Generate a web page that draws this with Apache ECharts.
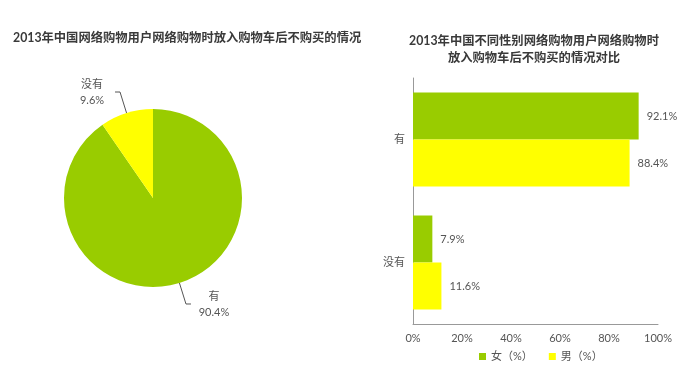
<!DOCTYPE html>
<html><head><meta charset="utf-8">
<script src="https://cdn.jsdelivr.net/npm/echarts@6/dist/echarts.min.js"></script>
<style>html,body{margin:0;padding:0;background:#fff}#c{width:690px;height:371px}</style>
</head><body><div id="c"></div>
<script>
const pieTitle = '2013年中国网络购物用户网络购物时放入购物车后不购买的情况';
const barTitle = '2013年中国不同性别网络购物用户网络购物时\n放入购物车后不购买的情况对比';
const pieNames = ['有', '没有'];
const pieValues = [90.4, 9.6];
const barCategories = ['没有', '有'];
const femaleValues = [7.9, 92.1];
const maleValues = [11.6, 88.4];
const seriesNames = ['女（%）', '男（%）'];
const xTicks = [0, 20, 40, 60, 80, 100];

const GREEN = '#99CC00', YELLOW = '#FFFF00';
const FONT = 'Lato, "Noto Sans CJK SC", sans-serif';
const chart = echarts.init(document.getElementById('c'));
chart.setOption({
  animation: false,
  textStyle: { fontFamily: FONT },
  title: [
    { text: pieTitle, left: 8, top: 27, textStyle: { fontSize: 12.3, fontWeight: 'bold', color: '#3a3a3a', fontFamily: FONT } },
    { text: barTitle, left: 529, top: 28, textAlign: 'center', textStyle: { fontSize: 12.3, fontWeight: 'bold', color: '#3a3a3a', lineHeight: 17, align: 'center', fontFamily: FONT } }
  ],
  legend: {
    data: seriesNames, bottom: 4, left: 474, itemWidth: 7, itemHeight: 7, itemGap: 16, icon: 'rect',
    textStyle: { color: '#555', fontSize: 11, fontFamily: FONT }
  },
  grid: { left: 413, right: 32, top: 78, bottom: 47 },
  xAxis: {
    type: 'value', min: 0, max: 100, interval: 20,
    axisLine: { show: true, lineStyle: { color: '#999' } },
    axisTick: { show: false }, splitLine: { show: false },
    axisLabel: { color: '#555', fontSize: 11, margin: 9, formatter: v => xTicks.includes(v) ? v + '%' : '' }
  },
  yAxis: {
    type: 'category', data: barCategories,
    axisLine: { show: true, lineStyle: { color: '#999' } },
    axisTick: { show: false },
    axisLabel: { color: '#555', fontSize: 11, margin: 8 }
  },
  series: [
    {
      type: 'pie', center: [153, 198], radius: 89, startAngle: 90, clockwise: true,
      data: pieNames.map((n, i) => ({ name: n, value: pieValues[i], itemStyle: { color: i === 0 ? GREEN : YELLOW } })),
      label: {
        formatter: '{a|{b}}\n{a|{c}%}', color: '#555', fontSize: 11,
        rich: { a: { width: 36, align: 'center', color: '#555', fontSize: 11, lineHeight: 16 } }
      },
      labelLine: { length: 22, length2: 5, lineStyle: { color: '#555', width: 1 } }
    },
    {
      type: 'bar', name: seriesNames[0], data: femaleValues, barWidth: 47, barGap: '0%',
      itemStyle: { color: GREEN },
      label: { show: true, position: 'right', distance: 8, color: '#555', fontSize: 11, formatter: '{c}%' }
    },
    {
      type: 'bar', name: seriesNames[1], data: maleValues, barWidth: 47, barGap: '0%',
      itemStyle: { color: YELLOW },
      label: { show: true, position: 'right', distance: 8, color: '#555', fontSize: 11, formatter: '{c}%' }
    }
  ]
});
</script></body></html>
